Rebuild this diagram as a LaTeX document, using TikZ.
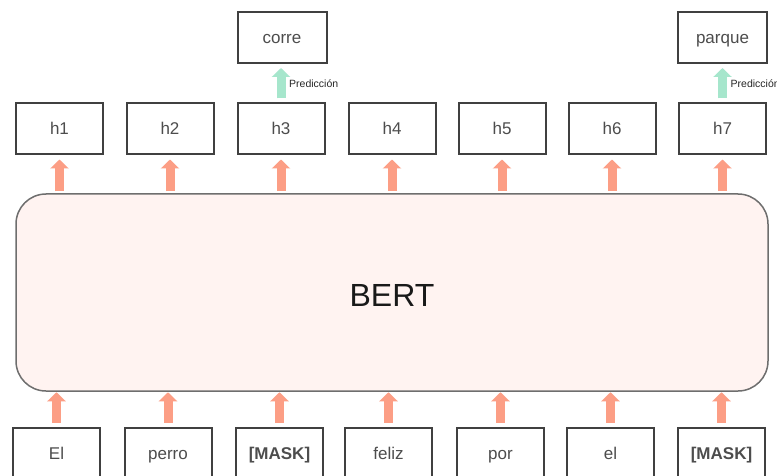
\documentclass[tikz,border=0pt]{standalone}
\usepackage{fontspec}
\setmainfont{Liberation Sans}
\usetikzlibrary{arrows.meta}
\definecolor{boxline}{HTML}{404040}
\definecolor{txtgray}{HTML}{4D4D4D}
\definecolor{salmon}{HTML}{FC9E85}
\definecolor{mint}{HTML}{A6E6CC}
\definecolor{bertfill}{HTML}{FFF3F1}
\definecolor{bertline}{HTML}{6E6E6E}
\begin{document}
\begin{tikzpicture}[x=1pt,y=-1pt,
  tok/.style={draw=boxline, line width=2pt, fill=white, minimum width=87pt, minimum height=51pt, inner sep=0pt, text=txtgray, font=\fontsize{17}{19}\selectfont, text height=14pt, text depth=2pt},
  blockarrow/.style={line width=9pt, -{Triangle[width=18pt,length=9pt]}},
  uparr/.style={blockarrow, draw=salmon, color=salmon},
  predarr/.style={blockarrow, draw=mint, color=mint},
  predlbl/.style={font=\fontsize{10.5}{12}\selectfont, text=black!85, anchor=west, inner sep=0pt}
]
\useasboundingbox (0,0) rectangle (777,476);
\fill[white] (0,0) rectangle (777,476);
% BERT
\node[draw=bertline, line width=1.5pt, fill=bertfill, rounded corners=30pt, minimum width=752pt, minimum height=197pt, inner sep=0pt] (bert) at (392,292.5) {};
\node[anchor=base, font=\fontsize{32}{36}\selectfont, text=black!90, inner sep=0pt] (berttxt) at (392,306.5) {BERT};
% top row
\node[tok] (h1) at (59.5,129) {h1};
\node[tok] (h2) at (170,129) {h2};
\node[tok] (h3) at (281,129) {h3};
\node[tok] (h4) at (392,129) {h4};
\node[tok] (h5) at (502,129) {h5};
\node[tok] (h6) at (612,129) {h6};
\node[tok] (h7) at (722.5,129) {h7};
% predictions
\node[tok, minimum width=89pt] (corre) at (282,37.5) {corre};
\node[tok, minimum width=89pt] (parque) at (722.5,37.5) {parque};
% bottom row
\node[tok] (t1) at (56.5,453) {El};
\node[tok] (t2) at (168,453) {perro};
\node[tok] (t3) at (279.5,453) {\bfseries [MASK]};
\node[tok] (t4) at (388.5,453) {feliz};
\node[tok] (t5) at (500.5,453) {por};
\node[tok] (t6) at (610.5,453) {el};
\node[tok] (t7) at (721.5,453) {\bfseries [MASK]};
% arrows BERT -> h
\foreach \n in {h1,h2,h3,h4,h5,h6,h7}{
  \draw[uparr, shorten <=2pt, shorten >=4pt] (bert.north -| \n.south) -- (\n.south);
}
% arrows tokens -> BERT
\foreach \n in {t1,t2,t3,t4,t5,t6,t7}{
  \draw[uparr, shorten <=4pt, shorten >=0.5pt] (\n.north) -- (\n.north |- bert.south);
}
% prediction arrows
\draw[predarr, shorten <=4pt, shorten >=4pt] (h3.north) -- (h3.north |- corre.south) coordinate[midway] (m3);
\draw[predarr, shorten <=4pt, shorten >=4pt] (h7.north) -- (h7.north |- parque.south) coordinate[midway] (m7);
\node[predlbl] (p3) at ([xshift=8pt]m3) {Predicción};
\node[predlbl] (p7) at ([xshift=8pt]m7) {Predicción};
\end{tikzpicture}
\end{document}
